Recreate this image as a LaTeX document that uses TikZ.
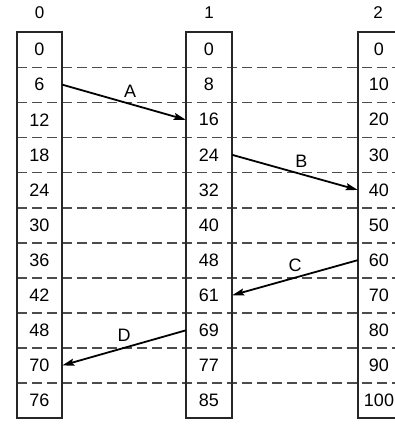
\documentclass[tikz,border=0pt]{standalone}
\usepackage{fontspec}
\setmainfont{Liberation Sans}
\usetikzlibrary{arrows.meta}

\begin{document}
\begin{tikzpicture}[
    x=1pt, y=-1pt,
    cell/.style={minimum height=35.1pt, inner sep=0pt, font=\fontsize{18}{18}\selectfont},
    head/.style={font=\fontsize{17}{17}\selectfont},
    frame/.style={draw=black!85, line width=2.2pt},
    grid/.style={draw=black!70, line width=1.6pt, dash pattern=on 10pt off 5pt},
    arr/.style={-{Stealth[length=12pt, width=7pt, inset=2pt]}, line width=1.8pt},
    lbl/.style={above=2pt, font=\fontsize{18}{18}\selectfont},
]
    \useasboundingbox (0,0) rectangle (395,424);
    \clip (0,0) rectangle (395,424);

    % Cells of the three tables
    \foreach \v [count=\r from 0] in {0,6,12,18,24,30,36,42,48,70,76}
        \node [cell, minimum width=45pt] (c0-\r) at (39.5, 49.55+35.1*\r) {\v};
    \foreach \v [count=\r from 0] in {0,8,16,24,32,40,48,61,69,77,85}
        \node [cell, minimum width=46pt] (c1-\r) at (209, 49.55+35.1*\r) {\v};
    \foreach \v [count=\r from 0] in {0,10,20,30,40,50,60,70,80,90,100}
        \node [cell, minimum width=42pt] (c2-\r) at (379, 49.55+35.1*\r) {\v};

    % Headers
    \node [head] (h0) at (39.5, 13) {0};
    \node [head] (h1) at (209, 13) {1};
    \node [head] (h2) at (378, 13) {2};

    % Dashed row lines
    \foreach \r in {0,...,9}
        \draw [grid] (c0-\r.south west) -- (c2-\r.south east);

    % Frames
    \draw [frame] (c0-0.north west) rectangle (c0-10.south east);
    \draw [frame] (c1-0.north west) rectangle (c1-10.south east);
    \draw [frame] (c2-0.north west) rectangle (c2-10.south east);

    % Links
    \draw [arr] (c0-1.east) -- (c1-2.west) node [lbl, pos=0.55] {A};
    \draw [arr] (c1-3.east) -- (c2-4.west) node [lbl, pos=0.55] {B};
    \draw [arr] (c2-6.west) -- (c1-7.east) node [lbl, pos=0.5] {C};
    \draw [arr] (c1-8.west) -- (c0-9.east) node [lbl, pos=0.5] {D};
\end{tikzpicture}
\end{document}
